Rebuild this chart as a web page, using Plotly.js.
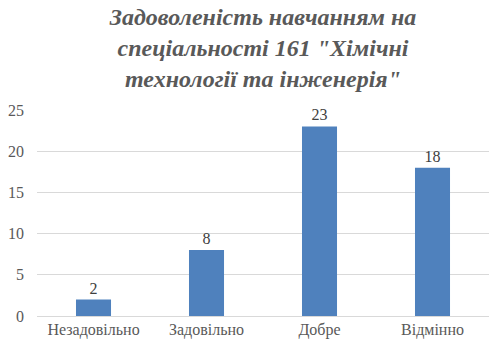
<!DOCTYPE html>
<html>
<head>
<meta charset="utf-8">
<script src="https://cdn.plot.ly/plotly-3.0.1.min.js"></script>
</head>
<body style="margin:0">
<div id="chart"></div>
<script>
var categories = ["Незадовільно", "Задовільно", "Добре", "Відмінно"];
var values = [2, 8, 23, 18];
var tickValues = [0, 5, 10, 15, 20, 25];
var titleText = "Задоволеність навчанням на<br>спеціальності 161 \"Хімічні<br>технології та інженерія\"";

var F = "Times New Roman";
var trace = {
  type: "bar",
  x: categories,
  y: values,
  text: values.map(String),
  textposition: "outside",
  cliponaxis: false,
  textfont: {family: F, size: 16, color: "#404040"},
  marker: {color: "#4F81BD"},
  width: 0.31,
  hoverinfo: "none"
};
var layout = {
  width: 496, height: 353,
  font: {family: F, size: 16, color: "#595959"},
  margin: {l: 37, r: 7, t: 110, b: 37},
  paper_bgcolor: "#fff", plot_bgcolor: "#fff",
  showlegend: false,
  title: {
    text: titleText,
    font: {family: F, size: 24, color: "#595959", weight: "bold", style: "italic"},
    x: 0.5, xanchor: "center", xref: "paper",
    y: 0.93, yanchor: "top", yref: "container"
  },
  xaxis: {
    tickfont: {family: F, size: 16, color: "#595959"},
    showgrid: false, zeroline: false, showline: false, ticks: "",
    ticklabelstandoff: 2
  },
  yaxis: {
    range: [0, 25],
    tickvals: tickValues,
    tickfont: {family: F, size: 16, color: "#595959"},
    gridcolor: "#D9D9D9", gridwidth: 1,
    zeroline: true, zerolinecolor: "#D9D9D9", zerolinewidth: 1,
    showline: false, ticks: "", ticklabelstandoff: 12
  }
};
Plotly.newPlot("chart", [trace], layout, {displayModeBar: false, staticPlot: true});
</script>
</body>
</html>
